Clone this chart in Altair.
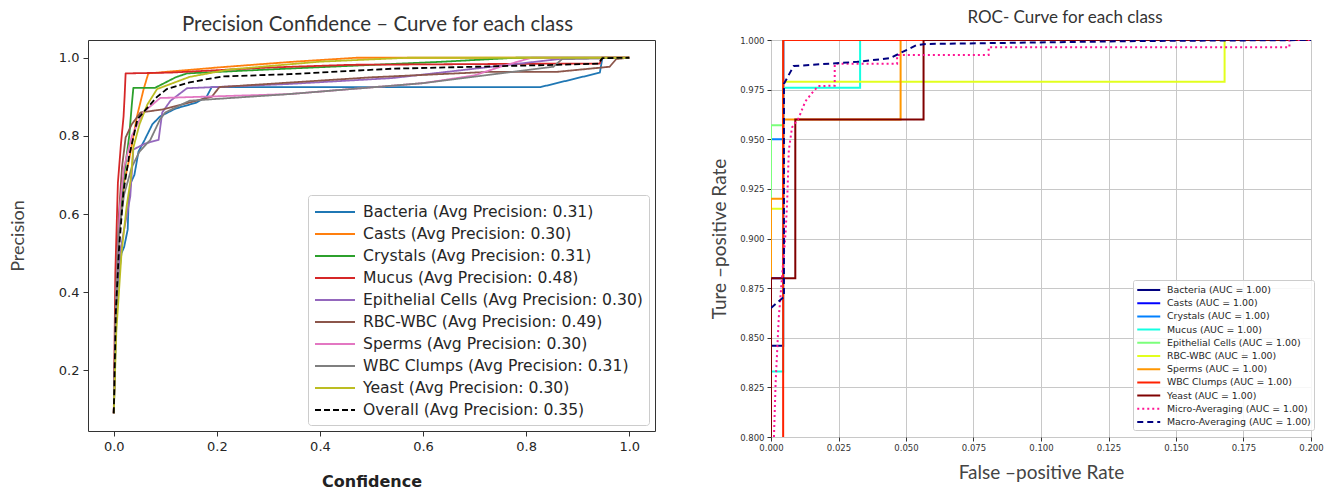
import altair as alt
import pandas as pd

# ---------------- Left panel: Precision vs Confidence ----------------
pc_names = ["Bacteria", "Casts", "Crystals", "Mucus", "Epithelial Cells",
            "RBC-WBC", "Sperms", "WBC Clumps", "Yeast", "Overall"]
pc_avg = ["0.31", "0.30", "0.31", "0.48", "0.30", "0.49", "0.30", "0.31", "0.30", "0.35"]
pc_colors = ["#1f77b4", "#ff7f0e", "#2ca02c", "#d62728", "#9467bd",
             "#8c564b", "#e377c2", "#7f7f7f", "#bcbd22", "#000000"]

bacteria_conf = [0, 0.004, 0.008, 0.015, 0.02, 0.027, 0.029, 0.033, 0.04, 0.048, 0.06, 0.075, 0.09, 0.12, 0.16, 0.18, 0.19, 0.5, 0.828, 0.943, 0.948, 1.0]
bacteria_prec = [0.09, 0.30, 0.42, 0.50, 0.515, 0.56, 0.64, 0.68, 0.70, 0.76, 0.79, 0.83, 0.85, 0.87, 0.885, 0.90, 0.925, 0.925, 0.925, 0.962, 1.0, 1.0]

casts_conf = [0, 0.004, 0.01, 0.02, 0.03, 0.045, 0.058, 0.067, 0.2, 0.35, 0.47, 1.0]
casts_prec = [0.09, 0.35, 0.55, 0.68, 0.74, 0.85, 0.92, 0.96, 0.975, 0.99, 1.0, 1.0]

crystals_conf = [0, 0.005, 0.012, 0.02, 0.03, 0.035, 0.038, 0.08, 0.12, 0.142, 0.3, 0.64, 0.78, 1.0]
crystals_prec = [0.09, 0.40, 0.60, 0.70, 0.80, 0.88, 0.923, 0.923, 0.95, 0.96, 0.97, 0.99, 1.0, 1.0]

mucus_conf = [0, 0.003, 0.008, 0.014, 0.019, 0.021, 0.023, 0.11, 0.3, 0.46, 0.86, 0.943, 0.946, 1.0]
mucus_prec = [0.09, 0.45, 0.68, 0.78, 0.85, 0.90, 0.96, 0.962, 0.975, 0.982, 0.985, 0.985, 1.0, 1.0]

epithelial_conf = [0, 0.006, 0.012, 0.02, 0.032, 0.038, 0.06, 0.087, 0.094, 0.11, 0.142, 0.34, 0.54, 0.866, 1.0]
epithelial_prec = [0.09, 0.40, 0.50, 0.56, 0.645, 0.765, 0.78, 0.79, 0.86, 0.89, 0.922, 0.933, 0.948, 0.997, 1.0]

rbcwbc_conf = [0, 0.004, 0.01, 0.016, 0.023, 0.035, 0.052, 0.096, 0.19, 0.205, 0.5, 0.73, 0.86, 0.962, 0.975, 1.0]
rbcwbc_prec = [0.09, 0.40, 0.60, 0.72, 0.796, 0.83, 0.86, 0.868, 0.90, 0.925, 0.95, 0.964, 0.964, 0.977, 0.997, 1.0]

sperms_conf = [0, 0.005, 0.012, 0.02, 0.035, 0.057, 0.09, 0.34, 0.60, 0.70, 0.75, 0.81, 1.0]
sperms_prec = [0.09, 0.40, 0.62, 0.72, 0.80, 0.86, 0.897, 0.907, 0.935, 0.955, 0.977, 1.0, 1.0]

wbc_conf = [0, 0.004, 0.01, 0.02, 0.035, 0.05, 0.071, 0.09, 0.10, 0.147, 0.34, 0.6, 0.853, 0.87, 1.0]
wbc_prec = [0.09, 0.35, 0.55, 0.65, 0.72, 0.76, 0.79, 0.843, 0.86, 0.89, 0.907, 0.935, 0.977, 0.997, 1.0]

yeast_conf = [0, 0.005, 0.015, 0.025, 0.033, 0.038, 0.05, 0.065, 0.084, 0.147, 0.224, 0.4, 0.57, 1.0]
yeast_prec = [0.09, 0.30, 0.50, 0.62, 0.69, 0.77, 0.83, 0.88, 0.92, 0.951, 0.97, 0.99, 1.0, 1.0]

overall_conf = [0, 0.004, 0.01, 0.019, 0.03, 0.046, 0.084, 0.103, 0.147, 0.21, 0.34, 0.54, 0.86, 0.94, 0.948, 1.0]
overall_prec = [0.09, 0.35, 0.507, 0.66, 0.75, 0.843, 0.90, 0.92, 0.937, 0.952, 0.958, 0.972, 0.982, 0.985, 0.999, 1.0]

pc_x_ticks = [0.0, 0.2, 0.4, 0.6, 0.8, 1.0]
pc_y_ticks = [0.2, 0.4, 0.6, 0.8, 1.0]

# ---------------- Right panel: ROC (zoomed) ----------------
roc_names = ["Bacteria", "Casts", "Crystals", "Mucus", "Epithelial Cells", "RBC-WBC",
             "Sperms", "WBC Clumps", "Yeast", "Micro-Averaging", "Macro-Averaging"]
roc_colors = ["#000080", "#0000ff", "#0080ff", "#14ffe2", "#7bff7b", "#e2ff1d",
              "#ff9700", "#ff2100", "#800000", "#ff1493", "#000080"]

roc_bacteria_fpr = [0, 0, 0.0045, 0.0045, 1]
roc_bacteria_tpr = [0, 0.846, 0.846, 1.0, 1]
roc_casts_fpr = [0, 0, 0.0045, 0.0045, 1]
roc_casts_tpr = [0, 0.88, 0.88, 1.0, 1]
roc_crystals_fpr = [0, 0, 0.0045, 0.0045, 1]
roc_crystals_tpr = [0, 0.95, 0.95, 1.0, 1]
roc_mucus_fpr = [0, 0, 0.0045, 0.0045, 0.033, 0.033, 1]
roc_mucus_tpr = [0, 0.833, 0.833, 0.976, 0.976, 1.0, 1]
roc_epithelial_fpr = [0, 0, 0.0045, 0.0045, 1]
roc_epithelial_tpr = [0, 0.957, 0.957, 1.0, 1]
roc_rbcwbc_fpr = [0, 0, 0.0045, 0.0045, 0.168, 0.168, 1]
roc_rbcwbc_tpr = [0, 0.915, 0.915, 0.979, 0.979, 1.0, 1]
roc_sperms_fpr = [0, 0, 0.0045, 0.0045, 0.048, 0.048, 1]
roc_sperms_tpr = [0, 0.92, 0.92, 0.96, 0.96, 1.0, 1]
roc_wbc_fpr = [0, 0.0045, 0.0045, 1]
roc_wbc_tpr = [0, 0.5, 1.0, 1]
roc_yeast_fpr = [0, 0, 0.009, 0.009, 0.0565, 0.0565, 1]
roc_yeast_tpr = [0, 0.88, 0.88, 0.96, 0.96, 1.0, 1]
roc_micro_fpr = [0, 0.0011, 0.0017, 0.0029, 0.0041, 0.0054, 0.006, 0.0066, 0.0078, 0.0102, 0.0127, 0.015, 0.0175, 0.0236, 0.0236, 0.0467, 0.0467, 0.0806, 0.0806, 0.192, 0.192, 1]
roc_micro_tpr = [0.79, 0.80, 0.827, 0.8605, 0.881, 0.9027, 0.919, 0.9446, 0.956, 0.9605, 0.969, 0.973, 0.9768, 0.977, 0.988, 0.988, 0.9924, 0.9924, 0.9963, 0.9963, 1.0, 1]
roc_macro_fpr = [0, 0.0048, 0.0048, 0.0084, 0.032, 0.044, 0.054, 0.0577, 0.138, 0.2, 1]
roc_macro_tpr = [0.865, 0.8706, 0.978, 0.9869, 0.989, 0.9908, 0.9975, 0.998, 0.9995, 1.0, 1]

roc_x_ticks = [0.0, 0.025, 0.05, 0.075, 0.1, 0.125, 0.15, 0.175, 0.2]
roc_y_ticks = [0.8, 0.825, 0.85, 0.875, 0.9, 0.925, 0.95, 0.975, 1.0]

# ---------------- build tables ----------------
pc_series = [(bacteria_conf, bacteria_prec), (casts_conf, casts_prec), (crystals_conf, crystals_prec),
             (mucus_conf, mucus_prec), (epithelial_conf, epithelial_prec), (rbcwbc_conf, rbcwbc_prec),
             (sperms_conf, sperms_prec), (wbc_conf, wbc_prec), (yeast_conf, yeast_prec),
             (overall_conf, overall_prec)]
pc_labels = [f"{n} (Avg Precision: {a})" for n, a in zip(pc_names, pc_avg)]
rows = []
for lab, (xs, ys) in zip(pc_labels, pc_series):
    for i, (x, y) in enumerate(zip(xs, ys)):
        rows.append({"series": lab, "x": x, "y": y, "i": i})
df_pc = pd.DataFrame(rows)
pc_dash = [[1, 0]] * 9 + [[6, 3]]
pc_width = [1.8] * 9 + [2.4]

roc_series = [(roc_bacteria_fpr, roc_bacteria_tpr), (roc_casts_fpr, roc_casts_tpr),
              (roc_crystals_fpr, roc_crystals_tpr), (roc_mucus_fpr, roc_mucus_tpr),
              (roc_epithelial_fpr, roc_epithelial_tpr), (roc_rbcwbc_fpr, roc_rbcwbc_tpr),
              (roc_sperms_fpr, roc_sperms_tpr), (roc_wbc_fpr, roc_wbc_tpr),
              (roc_yeast_fpr, roc_yeast_tpr), (roc_micro_fpr, roc_micro_tpr),
              (roc_macro_fpr, roc_macro_tpr)]
roc_labels = [f"{n} (AUC = 1.00)" for n in roc_names]
rows = []
for lab, (xs, ys) in zip(roc_labels, roc_series):
    for i, (x, y) in enumerate(zip(xs, ys)):
        rows.append({"series": lab, "x": x, "y": y, "i": i})
df_roc = pd.DataFrame(rows)
roc_dash = [[1, 0]] * 9 + [[2, 3], [6, 4]]

# ---------------- left chart ----------------
pc_legend = alt.Legend(
    orient="none", legendX=220, legendY=155, title=None,
    symbolType="M-1,0H3", symbolSize=400, symbolStrokeWidth=2,
    labelFont="DejaVu Sans", labelFontSize=15.6, labelColor="#262626", labelLimit=0,
    labelOffset=27, rowPadding=2, padding=6,
    fillColor="rgba(255,255,255,0.85)", strokeColor="#cccccc", cornerRadius=3,
)
left = alt.Chart(df_pc).mark_line(clip=True, strokeJoin="round").encode(
    x=alt.X("x:Q", scale=alt.Scale(domain=[-0.05, 1.05], nice=False, zero=False),
            axis=alt.Axis(values=pc_x_ticks, format=".1f", title="Confidence", grid=False,
                          labelFont="DejaVu Sans", labelFontSize=13, labelColor="#262626",
                          labelFlush=False, tickSize=5, labelPadding=4,
                          titleFont="DejaVu Sans", titleFontSize=16, titleFontWeight="bold",
                          titleColor="#222222", titlePadding=20)),
    y=alt.Y("y:Q", scale=alt.Scale(domain=[0.0445, 1.0455], nice=False, zero=False),
            axis=alt.Axis(values=pc_y_ticks, format=".1f", title="Precision", grid=False,
                          labelFont="DejaVu Sans", labelFontSize=13, labelColor="#262626",
                          labelFlush=False, tickSize=5, labelPadding=4,
                          titleFont="Lato", titleFontSize=18, titleFontWeight="normal",
                          titleColor="#444444", titlePadding=31)),
    color=alt.Color("series:N", scale=alt.Scale(domain=pc_labels, range=pc_colors), legend=pc_legend),
    strokeDash=alt.StrokeDash("series:N", scale=alt.Scale(domain=pc_labels, range=pc_dash), legend=pc_legend),
    strokeWidth=alt.StrokeWidth("series:N", scale=alt.Scale(domain=pc_labels, range=pc_width), legend=None),
    order=alt.Order("i:Q"),
).properties(
    width=567, height=391,
    title=alt.TitleParams("Precision Confidence – Curve for each class", font="Lato", fontSize=20.5,
                          fontWeight="normal", color="#333333", offset=4.5, dx=6, anchor="middle"),
)

# ---------------- right chart ----------------
roc_legend = alt.Legend(
    orient="none", legendX=362, legendY=240, title=None,
    symbolType="M-1,0H3", symbolSize=132, symbolStrokeWidth=2,
    labelFont="DejaVu Sans", labelFontSize=9.4, labelColor="#262626", labelLimit=0,
    labelOffset=17, rowPadding=1.2, padding=3,
    fillColor="rgba(255,255,255,0.85)", strokeColor="#cccccc", cornerRadius=2,
)
right = alt.Chart(df_roc).mark_line(clip=True, strokeWidth=2).encode(
    x=alt.X("x:Q", scale=alt.Scale(domain=[0, 0.2], nice=False, zero=False),
            axis=alt.Axis(values=roc_x_ticks, format=".3f", title="False –positive Rate",
                          grid=True, gridColor="#c8c8c8", gridWidth=1,
                          labelFont="DejaVu Sans", labelFontSize=8.5, labelColor="#333333",
                          labelFlush=False, tickSize=4, labelPadding=2,
                          titleFont="Lato", titleFontSize=19, titleFontWeight="normal",
                          titleColor="#444444", titlePadding=12)),
    y=alt.Y("y:Q", scale=alt.Scale(domain=[0.8, 1.0], nice=False, zero=False),
            axis=alt.Axis(values=roc_y_ticks, format=".3f", title="Ture –positive Rate",
                          grid=True, gridColor="#c8c8c8", gridWidth=1,
                          labelFont="DejaVu Sans", labelFontSize=8.5, labelColor="#333333",
                          labelFlush=False, tickSize=4, labelPadding=3,
                          titleFont="Lato", titleFontSize=19, titleFontWeight="normal",
                          titleColor="#444444", titlePadding=10)),
    color=alt.Color("series:N", scale=alt.Scale(domain=roc_labels, range=roc_colors), legend=roc_legend),
    strokeDash=alt.StrokeDash("series:N", scale=alt.Scale(domain=roc_labels, range=roc_dash), legend=roc_legend),
    order=alt.Order("i:Q"),
).properties(
    width=540, height=397,
    title=alt.TitleParams("ROC- Curve for each class", font="Lato", fontSize=17,
                          fontWeight="normal", color="#333333", offset=9, dx=24, anchor="middle"),
)

chart = alt.hconcat(left, right, spacing=54).resolve_scale(
    color="independent", strokeDash="independent", strokeWidth="independent"
).resolve_legend(
    color="independent", strokeDash="independent"
).properties(padding=0).configure_view(
    stroke="#333333", strokeWidth=1
).configure_axis(domain=False, tickColor="#333333")

chart.save("out.html", embed_options={"renderer": "svg", "actions": False})
